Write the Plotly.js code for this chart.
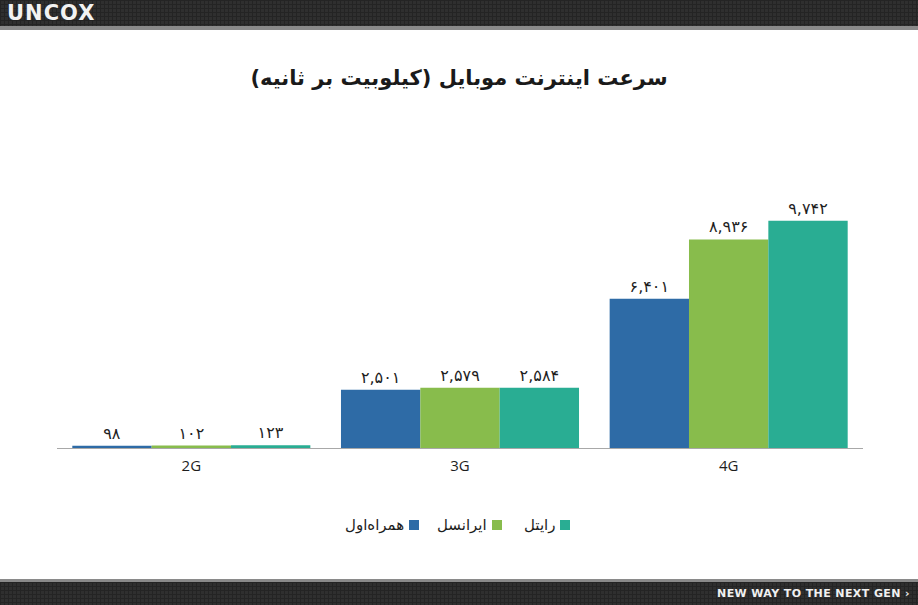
<!DOCTYPE html>
<html>
<head>
<meta charset="utf-8">
<script src="https://cdn.plot.ly/plotly-3.0.1.min.js"></script>
<style>
  html, body { margin: 0; padding: 0; background: #fff; }
  #page { position: relative; width: 918px; height: 605px; overflow: hidden; }
  .band {
    position: absolute; left: 0; width: 918px;
    background-color: #2f2f2f;
    background-image:
      linear-gradient(to right, #242424 1px, transparent 1px),
      linear-gradient(to bottom, #242424 1px, transparent 1px);
    background-size: 4px 4px;
  }
  #header { top: 0; height: 26px; border-bottom: 4px solid #8a8a8a; }
  #footer { bottom: 0; height: 23px; border-top: 3px solid #8a8a8a; }
  #logo {
    position: absolute; left: 7px; top: 1px;
    font: bold 21px "DejaVu Sans", sans-serif; color: #f2f2f2;
    text-transform: uppercase; letter-spacing: 1px;
  }
  #slogan {
    position: absolute; right: 8px; top: 5px;
    font: bold 11px "DejaVu Sans", sans-serif; color: #f0f0f0;
    letter-spacing: 0.4px;
  }
  #chart { position: absolute; left: 0; top: 0; width: 918px; height: 605px; }
</style>
</head>
<body>
<div id="page">
  <div id="header" class="band"><span id="logo">uncox</span></div>
  <div id="footer" class="band"><span id="slogan">NEW WAY TO THE NEXT GEN ›</span></div>
  <div id="chart"></div>
</div>
<script>
/* ─── Mobile internet speed by operator (kbps) ─── */

const categories = ['2G', '3G', '4G'];
const operators = ['همراه‌اول', 'ایرانسل', 'رایتل'];
const opColors = ['#2E6BA6', '#88BC4C', '#29AD93'];

const hamrahAval = [98, 2501, 6401];
const irancell = [102, 2579, 8936];
const rightel = [123, 2584, 9742];

const seriesValues = [hamrahAval, irancell, rightel];

const W = 918, H = 605;
const FA_DIGITS = '۰۱۲۳۴۵۶۷۸۹';

function toFa(n) {
    return n.toLocaleString('en-US').replace(/\d/g, d => FA_DIGITS[d]);
}

const traces = seriesValues.map((vals, i) => ({
    type: 'bar',
    x: categories,
    y: vals,
    name: operators[i],
    marker: { color: opColors[i], line: { width: 0 } },
    text: vals.map(toFa),
    textposition: 'outside',
    cliponaxis: false,
    textfont: { family: 'DejaVu Sans', size: 16, color: '#1e1e1e' },
    hoverinfo: 'skip',
    showlegend: false,
}));

// legend drawn by hand: square to the right of each label (RTL style)
const legendSquareX = [409, 492, 560];
const legendY = 525;
const shapes = [];
const annotations = [];
operators.forEach((name, i) => {
    const x0 = legendSquareX[i];
    shapes.push({
        type: 'rect', xref: 'paper', yref: 'paper',
        x0: x0 / W, x1: (x0 + 10) / W,
        y0: 1 - (legendY + 5) / H, y1: 1 - (legendY - 5) / H,
        fillcolor: opColors[i], line: { width: 0 },
    });
    annotations.push({
        xref: 'paper', yref: 'paper',
        x: (x0 - 3) / W, y: 1 - legendY / H,
        xanchor: 'right', yanchor: 'middle',
        text: name, showarrow: false,
        font: { family: 'DejaVu Sans', size: 15, color: '#1e1e1e' },
    });
});

const layout = {
    width: W,
    height: H,
    margin: { t: 0, r: 0, b: 0, l: 0 },
    paper_bgcolor: 'rgba(0,0,0,0)',
    plot_bgcolor: 'rgba(0,0,0,0)',
    title: {
        text: '<b>سرعت اینترنت موبایل (کیلوبیت بر ثانیه)</b>',
        x: 0.5, xanchor: 'center',
        y: 1 - 78 / H, yanchor: 'middle',
        font: { family: 'DejaVu Sans', size: 21, color: '#1a1a1a' },
    },
    barmode: 'group',
    bargap: 0.114,
    bargroupgap: 0,
    xaxis: {
        domain: [57 / W, 863 / W],
        showline: true, linecolor: '#a8a8a8', linewidth: 1,
        ticks: '', showgrid: false, zeroline: false,
        ticklabelstandoff: 4,
        tickfont: { family: 'Open Sans, DejaVu Sans', size: 15, color: '#1e1e1e' },
        fixedrange: true,
    },
    yaxis: {
        domain: [1 - 448 / H, 1 - 168 / H],
        range: [0, 12000],
        visible: false, showgrid: false, zeroline: false,
        fixedrange: true,
    },
    shapes: shapes,
    annotations: annotations,
    font: { family: 'DejaVu Sans' },
};

Plotly.newPlot('chart', traces, layout, { displayModeBar: false, staticPlot: true });
</script>
</body>
</html>
